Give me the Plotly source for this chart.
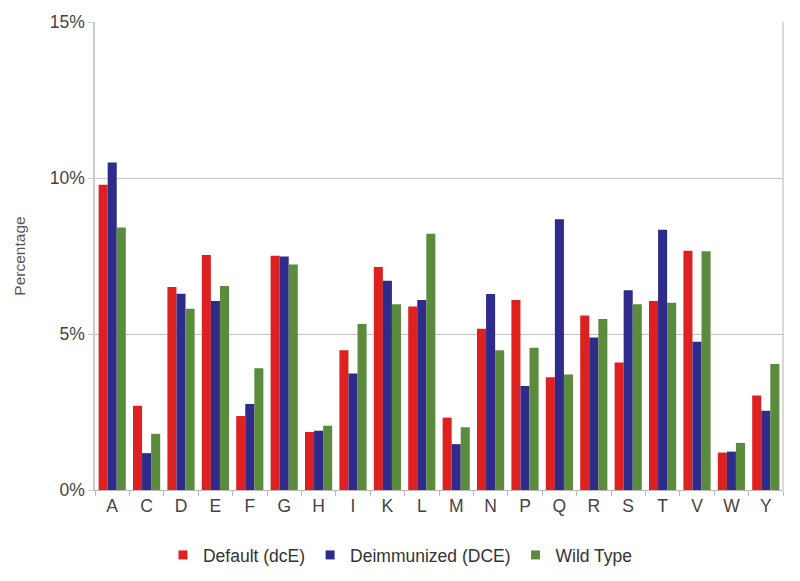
import plotly.graph_objects as go

categories = ["A", "C", "D", "E", "F", "G", "H", "I", "K", "L", "M", "N", "P", "Q", "R", "S", "T", "V", "W", "Y"]
default_dce = [9.78, 2.70, 6.51, 7.53, 2.37, 7.51, 1.86, 4.48, 7.15, 5.88, 2.32, 5.17, 6.09, 3.61, 5.59, 4.09, 6.06, 7.67, 1.20, 3.03]
deimmunized = [10.50, 1.18, 6.29, 6.06, 2.76, 7.48, 1.90, 3.73, 6.71, 6.09, 1.47, 6.28, 3.33, 8.68, 4.89, 6.40, 8.34, 4.75, 1.23, 2.54]
wild_type = [8.41, 1.80, 5.81, 6.54, 3.90, 7.23, 2.06, 5.32, 5.95, 8.21, 2.01, 4.48, 4.56, 3.70, 5.48, 5.95, 6.00, 7.65, 1.51, 4.04]
series_names = ["Default (dcE)", "Deimmunized (DCE)", "Wild Type"]
y_ticks = [0, 5, 10, 15]
y_ticklabels = ["0%", "5%", "10%", "15%"]

colors = ["#dd2020", "#2e2b8a", "#5b8b3d"]

fig = go.Figure()
for name, vals, c in zip(series_names, [default_dce, deimmunized, wild_type], colors):
    fig.add_trace(go.Bar(x=categories, y=vals, name=name, showlegend=False,
                         marker=dict(color=c, line=dict(width=0))))
# legend entries with small square markers
for name, c in zip(series_names, colors):
    fig.add_trace(go.Scatter(x=[None], y=[None], mode="markers", name=name,
                             marker=dict(symbol="square", size=9, color=c)))

fig.update_layout(
    width=792, height=573,
    margin=dict(l=87, r=17, t=14, b=91, autoexpand=False),
    paper_bgcolor="white", plot_bgcolor="white",
    barmode="group", bargap=0.21, bargroupgap=0,
    font=dict(family="Liberation Sans, Arial, sans-serif", color="#444444"),
    showlegend=True,
    legend=dict(orientation="h", x=0.444, xanchor="center", y=-0.139, yanchor="middle",
                font=dict(size=17.5, color="#333333"), itemwidth=30, traceorder="normal"),
    xaxis=dict(type="category", showline=True, linecolor="#b8b8b8", linewidth=1,
               ticks="outside", tickson="boundaries", ticklen=5, tickcolor="#b8b8b8",
               tickfont=dict(size=17.5, color="#444444"), showgrid=False, mirror=False,
               automargin=False),
    yaxis=dict(range=[0, 15], tickvals=y_ticks, ticktext=y_ticklabels,
               showline=True, linecolor="#cccccc", linewidth=1.5,
               ticks="outside", ticklen=5, tickcolor="#cccccc",
               showgrid=True, gridcolor="#c4c4c4", gridwidth=1,
               tickfont=dict(size=17.5, color="#444444"),
               title=dict(text="Percentage", font=dict(size=15.5, color="#555555"), standoff=20),
               zeroline=False, automargin=False),
)
# right border line
fig.add_shape(type="line", xref="paper", yref="paper", x0=1, x1=1, y0=0, y1=1,
              line=dict(color="#cccccc", width=1.5))

fig.write_html("out.html")
